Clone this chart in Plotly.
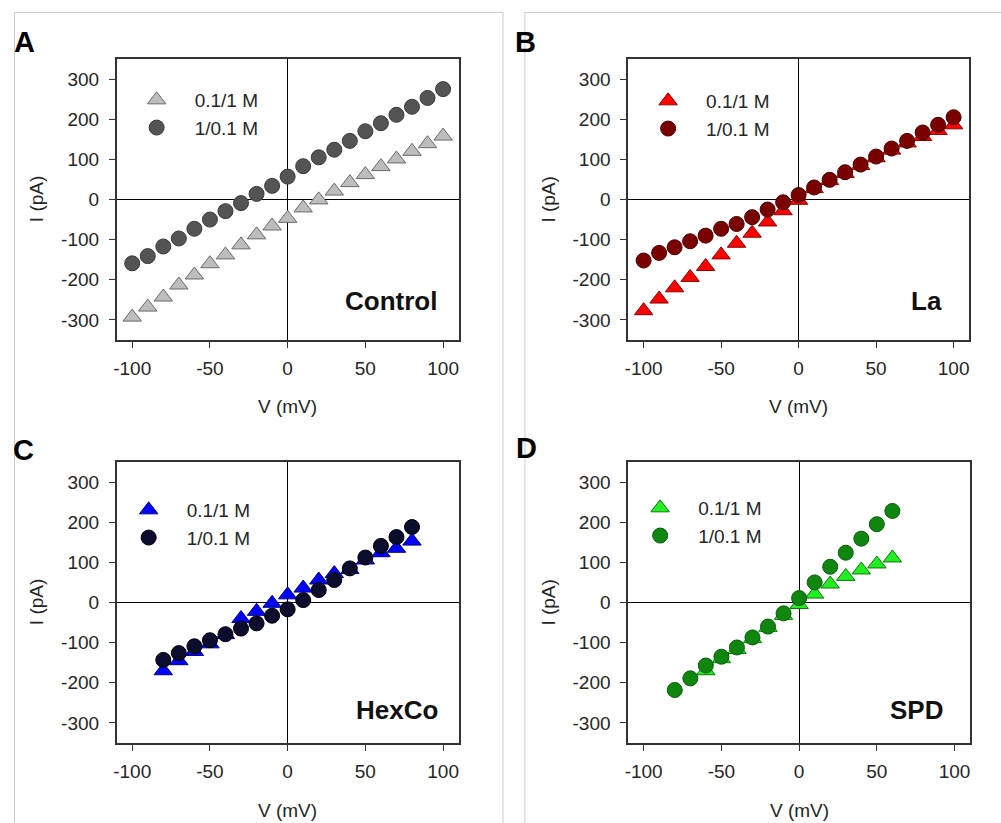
import plotly.graph_objects as go

# ---------------- data ----------------
V_full = [-100, -90, -80, -70, -60, -50, -40, -30, -20, -10, 0, 10, 20, 30, 40, 50, 60, 70, 80, 90, 100]
V_80 = [-80, -70, -60, -50, -40, -30, -20, -10, 0, 10, 20, 30, 40, 50, 60, 70, 80]
V_D_circ = [-80, -70, -60, -50, -40, -30, -20, -10, 0, 10, 20, 30, 40, 50, 60]
V_D_tri = [-60, -50, -40, -30, -20, -10, 0, 10, 20, 30, 40, 50, 60]

A_tri = [-293, -268, -243, -213, -188, -160, -138, -113, -88, -66, -47, -21, -1, 21, 42, 62, 82, 101, 120, 139, 158]
A_circ = [-159, -141, -117, -97, -73, -50, -29, -9, 14, 34, 57, 83, 105, 124, 146, 170, 190, 211, 231, 253, 275]

B_tri = [-277, -248, -220, -194, -167, -138, -109, -84, -56, -28, -2, 27, 47, 65, 85, 104, 123, 141, 157, 172, 186]
B_circ = [-152, -133, -119, -104, -90, -73, -61, -44, -25, -7, 11, 30, 49, 68, 87, 107, 127, 146, 167, 186, 205]

C_tri = [-170, -145, -122, -103, -80, -40, -22, -2, 19, 36, 56, 72, 82, 106, 124, 135, 153]
C_circ = [-143, -126, -109, -94, -79, -65, -52, -33, -17, 6, 31, 56, 85, 112, 141, 163, 188]

D_tri = [-170, -140, -117, -90, -62, -32, -5, 21, 46, 65, 81, 96, 111]
D_circ = [-218, -189, -157, -135, -112, -87, -60, -27, 11, 50, 89, 124, 159, 195, 228]

series_names = ["0.1/1 M", "1/0.1 M"]
panel_letters = ["A", "B", "C", "D"]
panel_names = ["Control", "La", "HexCo", "SPD"]
x_ticks = [-100, -50, 0, 50, 100]
x_ticktext = ["-100", "-50", "0", "50", "100"]
y_ticks = [-300, -200, -100, 0, 100, 200, 300]
y_ticktext = ["-300", "-200", "-100", "0", "100", "200", "300"]

W, H = 1001, 823

panels = [
    dict(vt=V_full, it=A_tri, vc=V_full, ic=A_circ,
         tri=("#bdbdbd", "#6a6a6a"), circ=("#545454", "#3a3a3a"),
         px=(114, 457), py=(59, 340), leg=(116, 81), name_x=97.5, name_y=-253),
    dict(vt=V_full, it=B_tri, vc=V_full, ic=B_circ,
         tri=("#ff0000", "#8a0000"), circ=("#7a0000", "#4a0000"),
         px=(627, 969), py=(59, 340), leg=(629, 82), name_x=94, name_y=-253),
    dict(vt=V_80, it=C_tri, vc=V_80, ic=C_circ,
         tri=("#0000ff", "#000080"), circ=("#0c0c2c", "#000010"),
         px=(114, 457), py=(462, 743), leg=(108, 491), name_x=98, name_y=-268),
    dict(vt=V_D_tri, it=D_tri, vc=V_D_circ, ic=D_circ,
         tri=("#22ee22", "#0a7a0a"), circ=("#0f870f", "#0a5a0a"),
         px=(627, 970), py=(462, 743), leg=(621, 489), name_x=94, name_y=-268),
]

fig = go.Figure()
annotations = []
shapes = []
layout = {}

font_family = "Arial, Liberation Sans, sans-serif"

for k, p in enumerate(panels):
    n = k + 1
    xa = "x" if n == 1 else f"x{n}"
    ya = "y" if n == 1 else f"y{n}"
    leg = "legend" if n == 1 else f"legend{n}"
    fig.add_trace(go.Scatter(
        x=p["vt"], y=p["it"], mode="markers", name=series_names[0],
        marker=dict(symbol="triangle-up", size=16, color=p["tri"][0],
                    line=dict(color=p["tri"][1], width=1)),
        xaxis=xa, yaxis=ya, legend=leg))
    fig.add_trace(go.Scatter(
        x=p["vc"], y=p["ic"], mode="markers", name=series_names[1],
        marker=dict(symbol="circle", size=15, color=p["circ"][0],
                    line=dict(color=p["circ"][1], width=1)),
        xaxis=xa, yaxis=ya, legend=leg))

    dom_x = [p["px"][0] / W, p["px"][1] / W]
    dom_y = [1 - p["py"][1] / H, 1 - p["py"][0] / H]
    axis_common = dict(showline=True, linecolor="#333333", linewidth=1.5, mirror=True,
                       ticks="outside", ticklen=6, tickcolor="#333333", tickwidth=1,
                       showgrid=False, zeroline=True, zerolinecolor="#000000", zerolinewidth=1,
                       tickfont=dict(family=font_family, size=19, color="#262626"))
    layout["xaxis" if n == 1 else f"xaxis{n}"] = dict(
        domain=dom_x, range=[-110, 110], anchor=ya,
        tickvals=x_ticks, ticktext=x_ticktext, ticklabelstandoff=4, **axis_common)
    layout["yaxis" if n == 1 else f"yaxis{n}"] = dict(
        domain=dom_y, range=[-350, 350], anchor=xa,
        tickvals=y_ticks, ticktext=y_ticktext, ticklabelstandoff=6, **axis_common)
    layout[leg] = dict(x=p["leg"][0] / W, y=1 - p["leg"][1] / H, xanchor="left", yanchor="top",
                       bgcolor="rgba(0,0,0,0)", borderwidth=0, itemwidth=66,
                       font=dict(family=font_family, size=19, color="#262626"))

    # axis titles
    annotations.append(dict(text="V (mV)", xref=f"{xa} domain", yref=f"{ya} domain",
                            x=0.5, y=0, yshift=-67, xanchor="center", yanchor="middle",
                            showarrow=False, font=dict(family=font_family, size=19, color="#262626")))
    annotations.append(dict(text="I (pA)", xref=f"{xa} domain", yref=f"{ya} domain",
                            x=0, y=0.5, xshift=-80, xanchor="center", yanchor="middle", textangle=-90,
                            showarrow=False, font=dict(family=font_family, size=19, color="#262626")))
    # condition name
    annotations.append(dict(text=f"<b>{panel_names[k]}</b>", xref=xa, yref=ya,
                            x=p["name_x"], y=p["name_y"], xanchor="right", yanchor="middle",
                            showarrow=False, font=dict(family=font_family, size=26, color="#111111")))

# panel letters
letter_pos = [(22, 42.5), (524, 42.5), (21, 450), (525, 447.5)]
for (lx, ly), letter in zip(letter_pos, panel_letters):
    annotations.append(dict(text=f"<b>{letter}</b>", xref="paper", yref="paper",
                            x=lx / W, y=1 - ly / H, xanchor="center", yanchor="middle",
                            showarrow=False, font=dict(family=font_family, size=29, color="#000000")))

# light gray frames of the two image columns
shapes.append(dict(type="rect", xref="paper", yref="paper", x0=11.5 / W, x1=501.5 / W,
                   y0=-0.05, y1=1 - 12.5 / H, line=dict(color="#cccccc", width=1), layer="below"))
shapes.append(dict(type="rect", xref="paper", yref="paper", x0=523.5 / W, x1=1.05,
                   y0=-0.05, y1=1 - 12.5 / H, line=dict(color="#cccccc", width=1), layer="below"))

fig.update_layout(width=W, height=H, margin=dict(l=0, r=0, t=0, b=0),
                  paper_bgcolor="white", plot_bgcolor="white",
                  annotations=annotations, shapes=shapes, showlegend=True, **layout)

fig.write_html("out.html", config={"displayModeBar": False},
               post_script="document.body.style.margin='0';document.body.style.overflow='hidden';")
